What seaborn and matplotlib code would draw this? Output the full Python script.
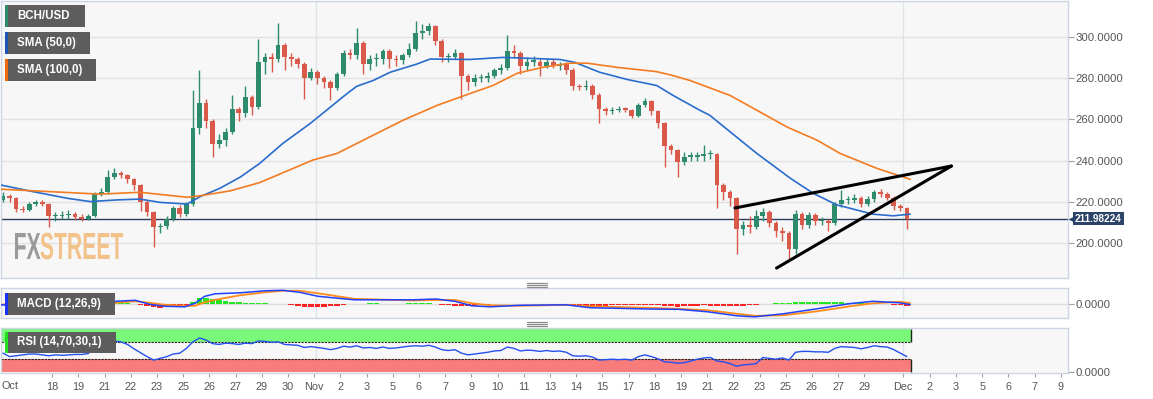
import numpy as np
import pandas as pd
import matplotlib
matplotlib.use('Agg')
import matplotlib.pyplot as plt
import matplotlib.patches as mpatches
import matplotlib.transforms as mtransforms
from matplotlib.lines import Line2D
from matplotlib.textpath import TextPath
from matplotlib.font_manager import FontProperties
import seaborn as sns

# ============================================================================
# DATA (8-hour candles)
# ============================================================================
first_open = 221
closes = [
    223, 222, 216.5, 216, 219, 220, 219, 213, 213, 213.5,
    214, 212.5, 212, 213, 224, 225, 232, 234, 233, 231,
    228, 220, 215, 208, 208.5, 212, 217, 214, 219, 256,
    268, 259, 248, 250, 254, 265, 263, 271, 266, 288,
    290, 289, 296, 290, 289, 287, 280, 283, 280, 278,
    275, 282, 292, 291, 297, 287, 289, 289, 293, 289,
    288.5, 291, 294, 302, 303, 305, 298, 290, 290, 292,
    281, 278, 280, 280, 281, 284, 285, 293, 292, 286,
    288, 288, 286, 288, 286, 287, 284, 276, 275.6, 276,
    272, 265, 264, 264.5, 265, 264.7, 261.5, 267, 269, 264,
    258, 247, 245, 239.5, 242, 242, 242.5, 243, 243, 228,
    225, 222, 207, 209, 208, 213, 215, 210, 206, 205,
    197, 214, 209, 213.5, 210.6, 211, 210, 219, 221, 221,
    222, 219, 221.5, 225, 224, 222, 218, 217, 211.98224,
]
highs = [
    225, 224, 222.5, 218, 220, 221, 221, 219.5, 215, 215.5,
    216, 215, 214, 214, 225, 227, 235.5, 236.5, 235, 233.5,
    231.5, 228.5, 221, 215.5, 210, 213, 218, 218.5, 220, 274,
    284, 270, 260, 253, 256, 272, 266, 276, 272, 299,
    292, 292, 306.5, 297, 292, 290, 288, 285, 284, 281,
    279, 283, 293.5, 294, 304, 298, 291, 292, 294, 294,
    291, 292, 297, 307.5, 306, 306.5, 305.5, 299, 292, 294,
    292.5, 282, 282, 282, 283, 285, 287, 301, 296, 293,
    290, 290.5, 289, 289.5, 289, 288, 288, 285, 277, 279,
    277, 273, 266, 266, 266.5, 266, 265, 268, 270.5, 269.5,
    264.5, 258.5, 248, 245.5, 244, 244, 244, 247.5, 245, 243.5,
    229, 226, 222.5, 211, 213, 216, 217, 216, 211, 208,
    206, 216, 215, 215, 214.5, 212.5, 212, 220, 226, 223,
    224, 223, 223, 226, 226.5, 225, 223, 219, 217.5,
]
lows = [
    220, 220, 215, 215, 215.5, 218, 218, 208, 211, 212,
    212, 211.5, 211, 211.5, 212.5, 223, 224, 231, 231.5, 229,
    226, 215.5, 213, 198, 205, 207, 211, 212.5, 213, 218,
    253, 256, 242, 246, 247, 253, 259, 261, 262, 265,
    282, 283, 288, 284, 286, 285, 270, 279, 277, 275,
    269.5, 274, 281, 289, 289, 282, 284, 286, 287, 285,
    286, 287, 290, 293, 299, 301, 296, 288, 288, 289,
    270, 274, 276, 278, 278, 280, 282, 284, 290, 282,
    284, 286, 281, 285, 285, 284, 282, 274, 274, 274,
    270, 258, 262, 262.5, 263.5, 263.5, 260.5, 261, 266, 262,
    256, 237, 243, 232, 238, 240, 240, 240, 241, 217,
    221, 218, 195, 204, 205, 207, 211, 208, 203, 201,
    192, 195, 207, 207.5, 209, 209, 206, 209, 217.5, 219,
    219.5, 217.5, 218, 220, 222.5, 221, 216, 215.5, 207,
]

# moving averages (bar position, value)
sma50_x = [-0.46, 4.6, 9.8, 13.3, 17.4, 20.9, 24.0, 28.1, 30.1, 33.1, 36.2, 39.2,
           42.7, 46.9, 52.5, 54.0, 56.5, 59.1, 63.2, 65.2, 71.3, 76.3, 85.0, 87.3,
           91.1, 95.3, 99.8, 102.3, 106.4, 107.9, 111.0, 115.1, 120.2, 123.7,
           127.3, 132.8, 135.9, 138.5]
sma50_y = [228.3, 225, 221.8, 220.2, 221, 221.4, 219.8, 219, 222.6, 226.6, 232, 238.7,
           248.3, 258, 272.4, 276, 278.8, 282.8, 286.8, 289.2, 289, 290, 289, 287.6,
           282.8, 279.3, 276.4, 271.6, 264.4, 262, 254, 243.5, 231.5, 224.2,
           218.6, 214.1, 213.3, 214.1]
sma100_x = [-0.46, 9.8, 14.8, 20.9, 28.1, 30.1, 34.7, 39.2, 47.3, 51.0, 56.0, 61.1,
            66.3, 69.8, 74.8, 78.5, 82.4, 86.6, 89.2, 93.7, 99.8, 102.3, 104.9,
            111.0, 115.1, 119.7, 124.3, 127.8, 133.4, 138.5]
sma100_y = [226.2, 224.6, 223.8, 224.7, 222.3, 223, 225.4, 229.4, 240.3, 243.5, 251.5,
            259.6, 266.8, 270.8, 276.4, 282.3, 285.2, 287.2, 287.2, 285.2, 283.1,
            281.2, 278.8, 271.6, 264.4, 256.3, 249.9, 243.5, 236.3, 231]

# wedge trendlines drawn on the chart
upper_tl_x = [111.75, 144.8]
upper_tl_y = [217.1, 237.4]
lower_tl_x = [118.1, 144.8]
lower_tl_y = [188.0, 237.4]

# MACD (12,26,9)
macd_x = [-0.46, 5.65, 11.76, 17.1, 20.2, 22.4, 24.7, 27.8, 29.3, 30.8, 32.4, 36.2,
          40.0, 42.7, 45.3, 48.1, 53.6, 62.6, 66.1, 69.0, 71.6, 74.4, 78.8, 85.96,
          89.6, 98.6, 103.1, 107.6, 112.1, 114.8, 119.1, 124.3, 129.3, 132.8,
          136.9, 138.5]
macd_line = [-0.5, -1.5, -0.5, 3, 4, 0, -2, -2.5, 1, 8, 10.5, 11.5,
             13.5, 14, 12, 8, 4.5, 4.5, 5.3, 3, -1.5, -2.5, -1.0, -0.5,
             -3.4, -4.7, -5, -7.5, -11.5, -12.5, -9.5, -4.5, 0.7, 3,
             1.5, -0.3]
signal_line = [0, -1, -0.8, 1.5, 3, 1.5, -0.5, -1.5, -1.5, 2, 4.5, 9,
               12, 13.5, 13.5, 11, 5.5, 3.8, 4.3, 4.3, 1, -1, -1.5, -0.5,
               -2, -3.5, -4.5, -6, -9.5, -11.5, -11, -7, -2, 1,
               2.5, 1.2]
macd_hist = [
    -0.5, -0.5, -0.3, 0.3, 0.5, 0.5, 0.3, -0.3, -0.8, -1.0,
    -0.8, -0.5, -0.2, 0.3, 1.0, 1.8, 2.5, 2.7, 2.2, 1.5,
    0.8, -0.5, -1.5, -2.5, -3.2, -3.0, -2.5, -1.8, -1.0, 2.0,
    6.5, 6.7, 5.5, 4.5, 3.5, 2.8, 2.0, 1.5, 1.2, 1.5,
    1.3, 0.8, 0.5, 0.0, -0.8, -1.5, -2.2, -2.6, -2.7, -2.5,
    -2.0, -1.5, -0.8, 0.0, 0.5, 0.8, 1.0, 1.0, 0.8, 0.7,
    0.6, 0.8, 1.0, 1.2, 1.3, 1.0, 0.5, -0.2, -0.8, -1.2,
    -1.5, -1.5, -1.2, -0.8, -0.5, 0.2, 0.5, 0.8, 0.8, 0.5,
    0.3, 0.2, 0.3, 0.2, 0.1, -0.3, -0.8, -1.3, -1.6, -1.5,
    -1.2, -1.5, -1.3, -1.0, -0.6, -0.4, -0.3, -0.2, -0.4, -0.6,
    -1.0, -1.8, -2.0, -2.2, -2.0, -1.6, -1.2, -1.0, -1.3, -1.5,
    -1.8, -2.0, -2.0, -1.6, -1.0, -0.5, 0.2, 0.6, 1.0, 1.4,
    1.6, 2.0, 2.2, 2.4, 2.5, 2.4, 2.3, 2.3, 2.0, 1.8,
    1.6, 1.3, 1.0, 0.8, 0.5, 0.2, -0.3, -0.8, -1.5,
]

# RSI (14,70,30,1)
rsi = [
    44, 36, 38, 40, 42, 42, 40, 38, 40, 39,
    40, 41, 41, 43, 55, 66, 70, 72, 70, 64,
    54, 45, 36, 28, 32, 36, 42, 44, 55, 70,
    79, 74, 66, 64, 67, 66, 64, 67, 66, 72,
    71, 69, 70, 64, 63, 62, 57, 59, 57, 55,
    52, 55, 60, 58, 61, 56, 57, 55, 58, 55,
    56, 58, 60, 61, 60, 62, 58, 52, 50, 52,
    44, 40, 42, 44, 46, 49, 50, 58, 55, 49,
    51, 50, 48, 50, 48, 49, 46, 38, 37, 38,
    35, 28, 29, 30, 29, 30, 28, 36, 40, 36,
    31, 24, 23, 21, 22, 26, 30, 33, 34, 26,
    24, 20, 14, 17, 18, 20, 34, 32, 30, 33,
    28, 46, 48, 48, 47, 47, 46, 55, 59, 58,
    57, 54, 57, 61, 59, 58, 52, 44, 36,
]

# x axis labels (bar positions)
tick_labels = ['18', '19', '21', '22', '23', '25', '26', '27', '29', '30', 'Nov',
               '2', '3', '5', '6', '7', '9', '10', '11', '13', '14', '15', '17',
               '18', '19', '21', '22', '23', '25', '26', '27', '29', 'Dec',
               '2', '3', '5', '6', '7', '9']
tick_pos = list(np.arange(7.5, 132, 4)) + [137.4] + list(np.arange(141.5, 162, 4))
month_lines = [47.8, 137.45]

# ============================================================================
# FRAME
# ============================================================================
df = pd.DataFrame({'open': [first_open] + closes[:-1], 'high': highs,
                   'low': lows, 'close': closes})
df['bar'] = np.arange(len(df))
last_close = closes[-1]

sns.set_theme(style='white')
plt.rcParams['font.family'] = ['Liberation Sans', 'DejaVu Sans']

W, H = 1153, 399
fig = plt.figure(figsize=(W / 100, H / 100), dpi=100)
fig.patch.set_facecolor('white')

def panel(top, bottom):
    return [1 / W, 1 - bottom / H, 1067 / W, (bottom - top) / H]

ax = fig.add_axes(panel(1, 278))
ax_macd = fig.add_axes(panel(288, 318.3), sharex=ax)
ax_rsi = fig.add_axes(panel(327.7, 372.5), sharex=ax)

GREEN, RED = '#2e8b6e', '#d9594a'
x_left, x_right = -0.305, 162.6

for a in (ax, ax_macd, ax_rsi):
    a.set_facecolor('#f7f7f7')
    for s in a.spines.values():
        s.set_color('#cdd4e4')
        s.set_linewidth(1)
    a.yaxis.tick_right()
    a.tick_params(axis='y', length=4, width=0.8, color='#a0a0a0', labelsize=8.2,
                  labelcolor='#555555', pad=1.5, right=True, left=False)
    for m in month_lines:
        a.axvline(m, color='#e0e3e9', lw=1, zorder=0.3)

# ============================================================================
# PRICE PANEL
# ============================================================================
ax.set_ylim(183.2, 317.3)
ax.set_yticks([200, 220, 240, 260, 280, 300])
ax.set_yticklabels([f'{v:.4f}' for v in [200, 220, 240, 260, 280, 300]])
for v in [200, 220, 240, 260, 280, 300]:
    ax.axhline(v, color='#e2e2e2', lw=1, zorder=0.3)
ax.tick_params(axis='x', bottom=False, labelbottom=False)

up = df['close'] >= df['open']
colors = np.where(up, GREEN, RED)
ax.vlines(df['bar'], df['low'], df['high'], colors=colors, lw=1.0, zorder=2)
body = (df['close'] - df['open']).abs().clip(lower=0.6)
ax.bar(df['bar'], body, bottom=df[['open', 'close']].min(axis=1), width=0.72,
       color=colors, linewidth=0, zorder=2.5)

ax.axhline(last_close, color='#2b3d5c', lw=1, zorder=1.5)

sns.lineplot(x=sma50_x, y=sma50_y, ax=ax, color='#2a6ccc', lw=1.2, sort=False,
             estimator=None, legend=False, zorder=3)
sns.lineplot(x=sma100_x, y=sma100_y, ax=ax, color='#f37b22', lw=1.2, sort=False,
             estimator=None, legend=False, zorder=3)

ax.plot(upper_tl_x, upper_tl_y, color='black', lw=2.2, solid_capstyle='round', zorder=4)
ax.plot(lower_tl_x, lower_tl_y, color='black', lw=2.2, solid_capstyle='round', zorder=4)

# last price flag on the axis
trans = mtransforms.blended_transform_factory(ax.transAxes, ax.transData)
ax.plot([1.0028], [last_close], marker='<', ms=5, color='#2c4468', mec='none',
        transform=trans, clip_on=False, zorder=5)
ax.text(1.0066, last_close, f'{last_close:.5f}', transform=trans, ha='left', va='center',
        color='white', fontsize=7.2, fontweight='bold', clip_on=False, zorder=6,
        bbox=dict(boxstyle='square,pad=0.18', fc='#2c4468', ec='none'))

# FXSTREET watermark (condensed by scaling the glyph outlines)
fp = FontProperties(family=['Liberation Sans Narrow', 'Liberation Sans'], weight='bold')
p_all = TextPath((0, 0), 'FXSTREET', size=1, prop=fp)
p_fx = TextPath((0, 0), 'FX', size=1, prop=fp)
p_st = TextPath((0, 0), 'STREET', size=1, prop=fp)
ext_all, ext_fx, ext_st = p_all.get_extents(), p_fx.get_extents(), p_st.get_extents()
sx = 109 / ext_all.width
sy = 26 / ext_fx.height
base = mtransforms.Affine2D().scale(sx, sy).translate(15 - ext_all.x0 * sx, H - 259)
fx_patch = mpatches.PathPatch(p_fx, transform=base, fc='#9a9a9a', ec='none', zorder=0.5)
st_shift = ext_all.width - ext_st.width
st_patch = mpatches.PathPatch(
    p_st, transform=mtransforms.Affine2D().translate(st_shift, 0) + base,
    fc='#f3c28a', ec='none', zorder=0.5)
fig.add_artist(fx_patch)
fig.add_artist(st_patch)

# ============================================================================
# MACD PANEL
# ============================================================================
ax_macd.set_ylim(-14, 16.3)
ax_macd.set_yticks([0])
ax_macd.set_yticklabels(['0.0000'])
ax_macd.axhline(0, color='#dcdcdc', lw=1, zorder=0.4)
ax_macd.tick_params(axis='x', bottom=False, labelbottom=False)
hist_colors = ['#22e622' if v >= 0 else '#ff2222' for v in macd_hist]
ax_macd.bar(df['bar'], macd_hist, width=0.85, color=hist_colors, linewidth=0, zorder=1)
sns.lineplot(x=macd_x, y=signal_line, ax=ax_macd, color='#ff8c1a', lw=1.3, sort=False,
             estimator=None, legend=False, zorder=2)
sns.lineplot(x=macd_x, y=macd_line, ax=ax_macd, color='#2040ff', lw=1.1, sort=False,
             estimator=None, legend=False, zorder=3)

# ============================================================================
# RSI PANEL
# ============================================================================
ax_rsi.set_ylim(-0.5, 102.5)
ax_rsi.set_yticks([0])
ax_rsi.set_yticklabels(['0.0000'])
band_end = len(closes) - 0.4
ax_rsi.fill_between([x_left, band_end], 70, 100, color='#7af87a', lw=0, zorder=1)
ax_rsi.fill_between([x_left, band_end], 0, 30, color='#f87c7c', lw=0, zorder=1)
ax_rsi.hlines([70, 30], x_left, band_end, colors='#222222', linestyles=(0, (2, 1)),
              lw=0.8, zorder=1.5)
ax_rsi.vlines([band_end, band_end], [70, 0], [100, 30], colors='#1f2a1f', lw=1, zorder=1.5)
sns.lineplot(x=df['bar'], y=rsi, ax=ax_rsi, color='#2450ee', lw=1, sort=False,
             estimator=None, legend=False, zorder=3)

ax_rsi.set_xticks(tick_pos)
ax_rsi.set_xticklabels(tick_labels)
ax_rsi.tick_params(axis='x', bottom=True, length=3, width=0.8, color='#a0a0a0',
                   labelsize=7.8, labelcolor='#555555', pad=4)
ax_rsi.text(0, -0.2, 'Oct', transform=ax_rsi.transAxes, ha='left', va='top',
            fontsize=7.8, color='#555555')
ax.set_xlim(x_left, x_right)
for a in (ax, ax_macd, ax_rsi):
    a.set_xlabel('')
    a.set_ylabel('')

# ============================================================================
# OVERLAYS: indicator labels and panel grips
# ============================================================================
legend_items = [
    ('BCH/USD', '#2e8b6e', 85, 5, 27),
    ('SMA (50,0)', '#1c55b5', 90, 32, 54),
    ('SMA (100,0)', '#ee6a10', 96, 59, 81),
    ('MACD (12,26,9)', '#1a30ff', 115, 293, 315),
    ('RSI (14,70,30,1)', '#20e020', 116, 332, 353),
]
for label, strip, x1, y0, y1 in legend_items:
    fig.add_artist(mpatches.Rectangle((5 / W, 1 - y1 / H), (x1 - 5) / W, (y1 - y0) / H,
                                      transform=fig.transFigure, fc='#5d5d5d', ec='none',
                                      zorder=10))
    fig.add_artist(mpatches.Rectangle((5 / W, 1 - y1 / H), 3 / W, (y1 - y0) / H,
                                      transform=fig.transFigure, fc=strip, ec='none',
                                      zorder=11))
    fig.text(17 / W, 1 - (y0 + y1) / 2 / H, label, color='white', fontsize=8.3,
             fontweight='bold', ha='left', va='center', zorder=12)

for gy in [283, 285, 287, 321.7, 323.7, 325.7]:
    fig.add_artist(Line2D([527 / W, 547 / W], [1 - gy / H, 1 - gy / H],
                          transform=fig.transFigure, color='#8c8c8c', lw=0.9))

fig.savefig('out.png', dpi=100)
print('Saved: out.png')
